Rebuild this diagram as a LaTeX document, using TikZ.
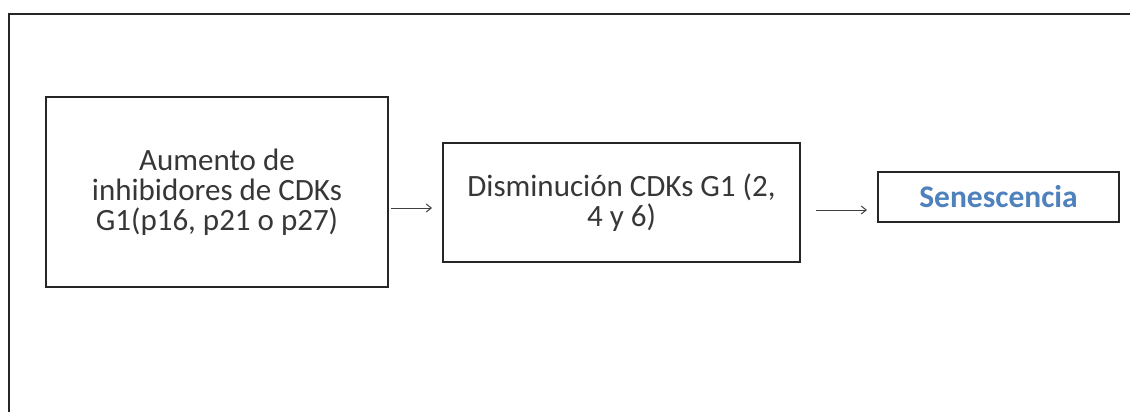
\documentclass[tikz,border=0pt]{standalone}
\usepackage{fontspec}
\setmainfont{Carlito}
\usetikzlibrary{arrows.meta}
\definecolor{txt}{RGB}{55,55,55}
\definecolor{sen}{RGB}{79,129,189}
\begin{document}
\begin{tikzpicture}[x=1pt,y=-1pt,
  box/.style={draw=black!85,line width=2pt,align=center,inner sep=0pt,font=\fontsize{31}{30}\selectfont,text=txt},
  conn/.style={draw=black!75,line width=1pt,-{Straight Barb[length=5pt,width=8pt]}}]
\useasboundingbox (0,0) rectangle (1130,412);
\draw[black!85,line width=2.5pt] (9,420) -- (9,14) -- (1140,14);
\node[box,minimum width=342pt,minimum height=190pt] (a) at (217,192) {Aumento de\\inhibidores de CDKs\\G1(p16, p21 o p27)};
\node[box,minimum width=357pt,minimum height=119pt] (b) at (621.5,202.5) {Disminución CDKs G1 (2,\\4 y 6)};
\node[box,minimum width=241pt,minimum height=50pt,font=\fontsize{31.5}{30}\selectfont\bfseries,text=sen] (c) at (998.5,197) {Senescencia};
\draw[conn] ([xshift=2pt]a.east |- 0,208) -- ([xshift=-10pt]b.west |- 0,208);
\draw[conn] ([xshift=15pt]b.east |- 0,210) -- ([xshift=-10pt]c.west |- 0,210);
\end{tikzpicture}
\end{document}
